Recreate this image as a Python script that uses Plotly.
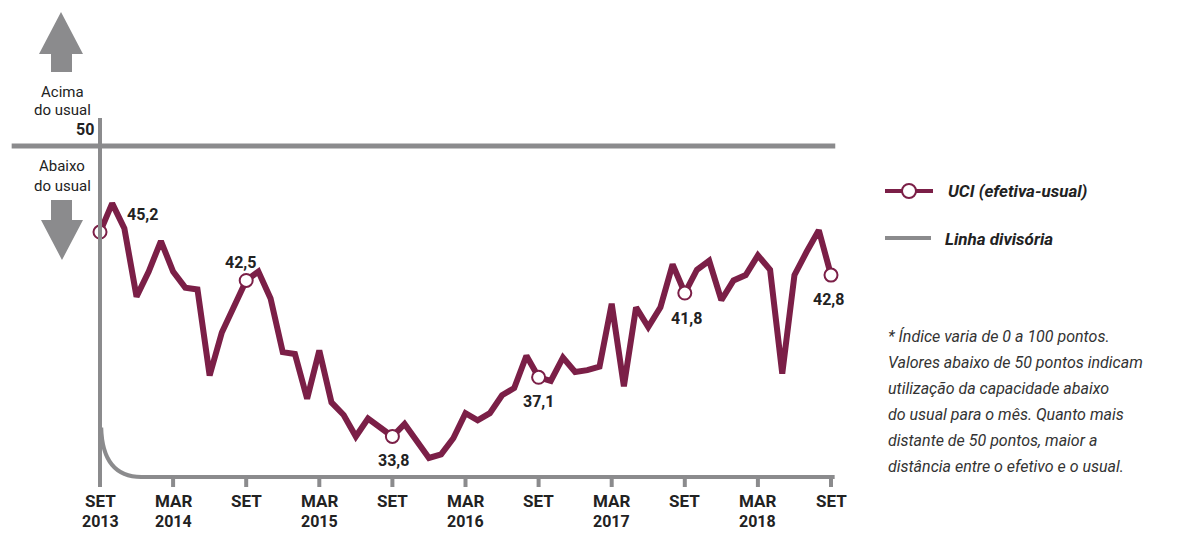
import plotly.graph_objects as go

# ---- data ----
uci = [45.2, 46.8, 45.4, 41.6, 43.0, 44.7, 43.0, 42.1, 42.0, 37.2, 39.6, 41.0,
       42.5, 43.0, 41.5, 38.5, 38.4, 35.9, 38.6, 35.7, 35.0, 33.8, 34.8, 34.3,
       33.8, 34.5, 33.6, 32.6, 32.8, 33.7, 35.1, 34.7, 35.1, 36.1, 36.5, 38.3,
       37.1, 36.9, 38.2, 37.4, 37.5, 37.7, 41.2, 36.6, 41.0, 39.9, 41.0, 43.4,
       41.8, 43.1, 43.6, 41.4, 42.5, 42.8, 43.9, 43.1, 37.3, 42.8, 44.1, 45.3, 42.8]
months = list(range(len(uci)))
tick_pos = [0, 6, 12, 18, 24, 30, 36, 42, 48, 54, 60]
tick_month = ["SET", "MAR", "SET", "MAR", "SET", "MAR", "SET", "MAR", "SET", "MAR", "SET"]
tick_year = ["2013", "2014", "", "2015", "", "2016", "", "2017", "", "2018", ""]
highlight_idx = [0, 12, 24, 36, 48, 60]
divide_value = 50

MAROON = "#7b1f47"
GRAY = "#8b8b8d"
TXT = "#222222"
FONT = "Roboto, sans-serif"

OFF = 8  # page body margin
W, H = 1178 - OFF, 533 - OFF
def px(x):
    return (x - OFF) / W
def py(y):
    return 1 - (y - OFF) / H

XS, YS = 12.1833, 17.93  # px per month / px per point
X0, Y50 = 100 - OFF, 146 - OFF

fig = go.Figure()

fig.add_trace(go.Scatter(
    x=months, y=uci, mode="lines", line=dict(color=MAROON, width=6),
    hoverinfo="skip", showlegend=False, cliponaxis=False))
fig.add_trace(go.Scatter(
    x=[months[i] for i in highlight_idx], y=[uci[i] for i in highlight_idx],
    mode="markers",
    marker=dict(size=13, color="white", line=dict(color=MAROON, width=2)),
    showlegend=False, cliponaxis=False))

shapes = []
# divider line at 50
shapes.append(dict(type="line", xref="x", yref="y", x0=-7.25, x1=60.35,
                   y0=divide_value, y1=divide_value, line=dict(color=GRAY, width=5)))
# vertical axis
y_axis = 31.54
shapes.append(dict(type="line", xref="x", yref="y", x0=0, x1=0, y0=51.56, y1=30.98,
                   line=dict(color=GRAY, width=4)))
# curved corner
shapes.append(dict(type="path", xref="x", yref="y",
                   path=f"M 0.1,34.3 Q 0.2,{y_axis} 3.4,{y_axis}",
                   line=dict(color=GRAY, width=4)))
# horizontal axis
shapes.append(dict(type="line", xref="x", yref="y", x0=3.3, x1=60.3,
                   y0=y_axis, y1=y_axis, line=dict(color=GRAY, width=4)))
for t in tick_pos[1:]:
    shapes.append(dict(type="line", xref="x", yref="y", x0=t, x1=t, y0=y_axis, y1=30.98,
                       line=dict(color=GRAY, width=4)))

# arrows (paper coords)
def path(points):
    return "M " + " L ".join(f"{px(x):.5f},{py(y):.5f}" for x, y in points) + " Z"
up = [(61, 12), (83, 54), (72, 54), (72, 72), (51, 72), (51, 54), (39, 54)]
down = [(51, 200), (72, 200), (72, 220), (83, 220), (62, 260), (41, 220), (51, 220)]
for pts in (up, down):
    shapes.append(dict(type="path", xref="paper", yref="paper", path=path(pts),
                       fillcolor=GRAY, line=dict(width=0)))

# manual legend
shapes.append(dict(type="line", xref="paper", yref="paper", x0=px(885), x1=px(933),
                   y0=py(191), y1=py(191), line=dict(color=MAROON, width=4)))
shapes.append(dict(type="circle", xref="paper", yref="paper", x0=px(902), x1=px(916),
                   y0=py(184), y1=py(198), fillcolor="white", line=dict(color=MAROON, width=2)))
shapes.append(dict(type="line", xref="paper", yref="paper", x0=px(885), x1=px(931),
                   y0=py(238), y1=py(238), line=dict(color=GRAY, width=4)))

annotations = []
def ann(x, y, text, size=16, color=TXT, xanchor="center", xref="paper", yref="paper", **kw):
    annotations.append(dict(x=x, y=y, xref=xref, yref=yref, text=text, showarrow=False,
                            xanchor=xanchor, yanchor="middle",
                            font=dict(family=FONT, size=size, color=color), **kw))

# tick labels
for t, m, yr in zip(tick_pos, tick_month, tick_year):
    ann(t, py(501), f"<b>{m}</b>", size=17, xref="x")
    if yr:
        ann(t, py(521), f"<b>{yr}</b>", size=16, xref="x")

# value labels
label_pos = [(142, 214), (241, 262), (393, 460), (538, 401), (686, 318), (828, 299)]
for i, (lx, ly) in zip(highlight_idx, label_pos):
    ann(px(lx), py(ly), "<b>" + f"{uci[i]:.1f}".replace(".", ",") + "</b>", size=16)

# left side texts
ann(px(62), py(92), "Acima", size=15)
ann(px(62), py(110), "do usual", size=15)
ann(px(96), py(130), "<b>50</b>", size=16, xanchor="right")
ann(px(62), py(166), "Abaixo", size=15)
ann(px(62), py(186), "do usual", size=15)

# legend texts
ann(px(946), py(191), "<b><i>UCI (efetiva-usual)</i></b>", size=17, xanchor="left")
ann(px(943), py(239), "<b><i>Linha divisória</i></b>", size=17, xanchor="left")

# note
note = ["* Índice varia de 0 a 100 pontos.",
        "Valores abaixo de 50 pontos indicam",
        "utilização da capacidade abaixo",
        "do usual para o mês. Quanto mais",
        "distante de 50 pontos, maior a",
        "distância entre o efetivo e o usual."]
for k, line in enumerate(note):
    ann(px(886), py(336 + 26 * k), f"<i>{line}</i>", size=16, color="#333333", xanchor="left")

fig.update_layout(
    width=W, height=H, margin=dict(l=0, r=0, t=0, b=0),
    plot_bgcolor="white", paper_bgcolor="white",
    xaxis=dict(range=[-X0 / XS, (W - X0) / XS], visible=False, fixedrange=True),
    yaxis=dict(range=[50 - (H - Y50) / YS, 50 + Y50 / YS], visible=False, fixedrange=True),
    shapes=shapes, annotations=annotations, showlegend=False,
)
fig.write_html("out.html")
